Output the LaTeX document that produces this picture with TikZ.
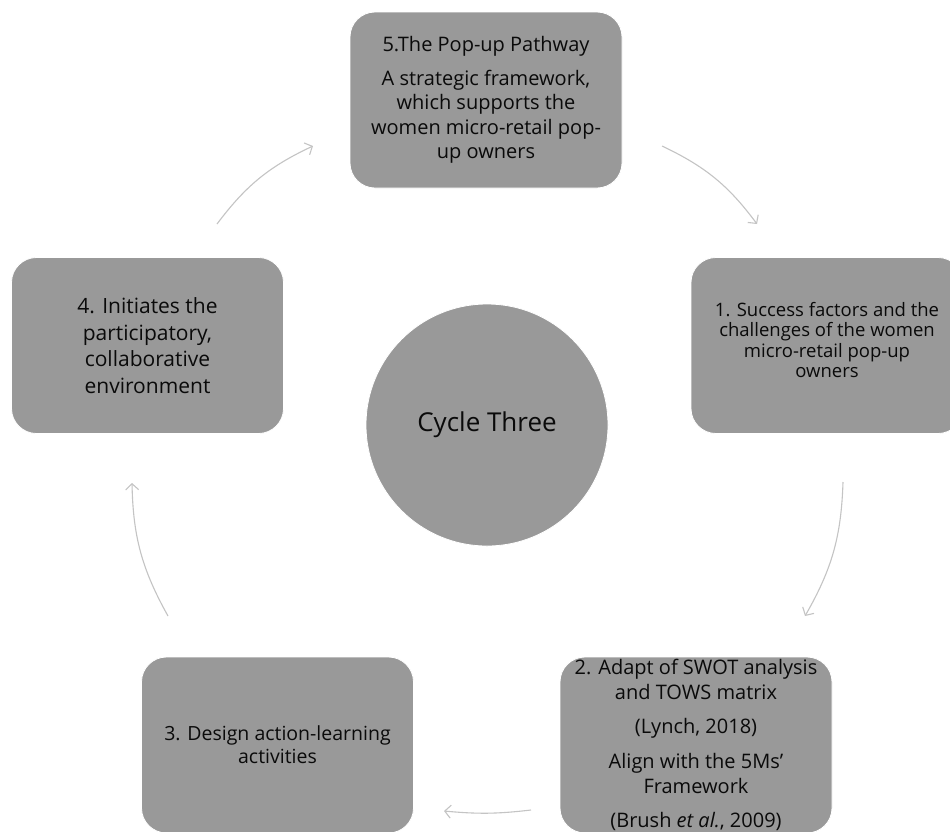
\documentclass[tikz,border=0pt]{standalone}
\usepackage{fontspec}
\setmainfont{Open Sans}
\usetikzlibrary{arrows.meta}
\definecolor{boxgray}{HTML}{999999}
\definecolor{txt}{HTML}{0A0A0A}
\definecolor{arrgray}{HTML}{C4C4C4}
\tikzset{
  stagebox/.style={rectangle, rounded corners=25pt, fill=boxgray, draw=white, line width=0.8pt,
    minimum width=272pt, minimum height=176pt, align=center, text=txt, inner sep=0pt},
  hubcircle/.style={circle, fill=boxgray, draw=white, line width=0.8pt, minimum size=242pt,
    align=center, text=txt, inner sep=0pt},
  cyclearrow/.style={draw=arrgray, line width=1.1pt, -{Straight Barb[length=6pt,width=13pt]}, bend left=14}
}
\begin{document}
\begin{tikzpicture}[x=1pt,y=1pt]
\useasboundingbox (0,0) rectangle (950,-831);
\clip (0,0) rectangle (950,-831);
\fill[white] (0,0) rectangle (950,-831);

\node[hubcircle, font=\fontsize{26}{30}\selectfont] (hub) at (487,-425) {Cycle Three};

\node[stagebox, font=\fontsize{20}{24.5}\selectfont] (s5) at (486,-100)
  {5.The Pop-up Pathway\\[9pt]A strategic framework,\\which supports the\\women micro-retail pop-\\up owners};

\node[stagebox, font=\fontsize{18.5}{20.5}\selectfont] (s1) at (827,-345.5)
  {1. Success factors and the\\challenges of the women\\micro-retail pop-up\\owners\\[-9.5pt]\mbox{}};

\node[stagebox, font=\fontsize{20}{25}\selectfont] (s2) at (696,-745)
  {2. Adapt of SWOT analysis\\and TOWS matrix\\[9pt](Lynch, 2018)\\[10pt]Align with the 5Ms'\\Framework\\[9pt](Brush \textit{et al.}, 2009)};

\node[stagebox, font=\fontsize{19.5}{23}\selectfont] (s3) at (277.5,-745)
  {3. Design action-learning\\activities};

\node[stagebox, font=\fontsize{21}{26.5}\selectfont] (s4) at (147.5,-345.5)
  {4. Initiates the\\participatory,\\collaborative\\environment};

\coordinate (a1s) at (217,-224); \coordinate (a1e) at (313,-146);
\coordinate (a2s) at (662,-146); \coordinate (a2e) at (757,-224);
\coordinate (a3s) at (843,-482); \coordinate (a3e) at (805,-616);
\coordinate (a4s) at (531,-810); \coordinate (a4e) at (444,-811);
\coordinate (a5s) at (168,-616); \coordinate (a5e) at (132,-483);

\draw[cyclearrow] (a1s) to (a1e);
\draw[cyclearrow] (a2s) to (a2e);
\draw[cyclearrow] (a3s) to (a3e);
\draw[cyclearrow, bend left=6] (a4s) to (a4e);
\draw[cyclearrow] (a5s) to (a5e);
\end{tikzpicture}
\end{document}
